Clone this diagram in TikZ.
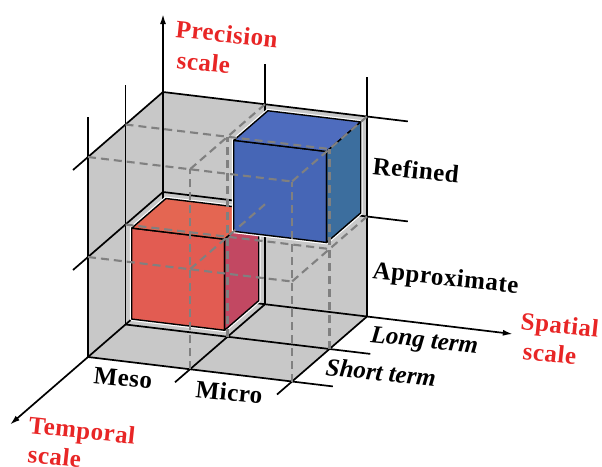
\documentclass[tikz,border=0pt]{standalone}
\usepackage{fontspec}
\setmainfont{Liberation Serif}
\usetikzlibrary{arrows.meta}
\definecolor{wallgrey}{RGB}{200,200,200}
\definecolor{hiddengrey}{RGB}{128,128,128}
\definecolor{redfront}{RGB}{226,92,82}
\definecolor{redtop}{RGB}{228,102,82}
\definecolor{redside}{RGB}{194,72,98}
\definecolor{bluefront}{RGB}{70,102,182}
\definecolor{bluetop}{RGB}{78,108,190}
\definecolor{blueside}{RGB}{60,110,158}
\definecolor{scalered}{RGB}{232,38,38}
\tikzset{
  wall/.style={fill=wallgrey},
  gridline/.style={line width=1.7pt},
  axis/.style={line width=1.7pt,-{Latex[length=10pt,width=6pt]}},
  hidden/.style={draw=hiddengrey,line width=2.1pt,dash pattern=on 8pt off 5pt},
  halo/.style={draw=white,line width=3.8pt,line join=round},
  blockedge/.style={draw=black,line width=1.4pt,line join=round},
  lab/.style={inner sep=0pt,anchor=base west,rotate=-6,
    font=\fontsize{25}{29}\selectfont\bfseries\addfontfeatures{LetterSpace=2}},
  termlab/.style={lab,font=\fontsize{25}{29}\selectfont\bfseries\itshape},
  scalelab/.style={lab,text=scalered}
}
% block in the cell whose low corner is (s,p,t)
\newcommand{\drawblock}[4]{%
  \pgfmathsetmacro\bsl{#1+0.045}\pgfmathsetmacro\bsh{#1+0.955}%
  \pgfmathsetmacro\bpl{#2+0.045}\pgfmathsetmacro\bph{#2+0.955}%
  \pgfmathsetmacro\btl{#3+0.045}\pgfmathsetmacro\bth{#3+0.955}%
  \draw[halo] (\bsl,\bpl,\bth) -- (\bsh,\bpl,\bth) -- (\bsh,\bpl,\btl)
    -- (\bsh,\bph,\btl) -- (\bsl,\bph,\btl) -- (\bsl,\bph,\bth) -- cycle;
  \draw[blockedge,fill=#4front] (\bsl,\bpl,\bth) -- (\bsh,\bpl,\bth)
    -- (\bsh,\bph,\bth) -- (\bsl,\bph,\bth) -- cycle;
  \draw[blockedge,fill=#4top] (\bsl,\bph,\bth) -- (\bsh,\bph,\bth)
    -- (\bsh,\bph,\btl) -- (\bsl,\bph,\btl) -- cycle;
  \draw[blockedge,fill=#4side] (\bsh,\bpl,\bth) -- (\bsh,\bpl,\btl)
    -- (\bsh,\bph,\btl) -- (\bsh,\bph,\bth) -- cycle;
}

\begin{document}
\begin{tikzpicture}
\useasboundingbox (0,0) rectangle (602pt,-466pt);
\begin{scope}[shift={(163pt,-292pt)},x={(102pt,-12.25pt)},y={(0pt,100pt)},z={(-37.5pt,-32.5pt)}]
% walls
\fill[wall] (0,0,0) -- (2,0,0) -- (2,2,0) -- (0,2,0) -- cycle;
\fill[wall] (0,0,0) -- (0,0,2) -- (0,2,2) -- (0,2,0) -- cycle;
\fill[wall] (0,0,0) -- (2,0,0) -- (2,0,2) -- (0,0,2) -- cycle;
% grid on the walls
\foreach \i in {1,2} {
  \draw[gridline] (0,\i,0) -- (2.4,\i,0);
  \draw[gridline] (0,0,\i) -- (2.4,0,\i);
  \draw[gridline] (0,\i,0) -- (0,\i,2.4);
  \draw[gridline] (\i,0,0) -- (\i,0,2.4);
  \draw[gridline] (\i,0,0) -- (\i,2.4,0);
  \draw[gridline] (0,0,\i) -- (0,2.4,\i);
}
\coordinate (o) at (0,0,0);
\coordinate (spatial) at (3.43,0,0);
\coordinate (precision) at (0,2.78,0);
\coordinate (temporal) at (0,0,4.08);
\draw[axis] (o) -- (spatial);
\draw[axis] (o) -- (precision);
\draw[axis] (o) -- (temporal);
% blocks
\drawblock{0}{0}{0}{red}
\drawblock{1}{1}{0}{blue}
% hidden lattice
\foreach \i in {1,2} \foreach \j in {1,2} {
  \draw[hidden] (0,\i,\j) -- (2,\i,\j);
  \draw[hidden] (\i,\j,0) -- (\i,\j,2);
  \draw[hidden] (\i,0,\j) -- (\i,2,\j);
}
\end{scope}
% labels
\node[scalelab] (prec1) at (175pt,-37pt) {Precision};
\node[scalelab] (prec2) at (176pt,-68pt) {scale};
\node[scalelab] (spat1) at (520pt,-329pt) {Spatial};
\node[scalelab] (spat2) at (522pt,-359pt) {scale};
\node[scalelab] (temp1) at (28pt,-433pt) {Temporal};
\node[scalelab] (temp2) at (27pt,-462pt) {scale};
\node[lab] (refined) at (372pt,-174pt) {Refined};
\node[lab] (approx) at (372pt,-278pt) {Approximate};
\node[lab] (meso) at (93pt,-383pt) {Meso};
\node[lab] (micro) at (195pt,-397pt) {Micro};
\node[termlab] (long) at (370pt,-342pt) {Long term};
\node[termlab] (short) at (325pt,-375pt) {Short term};
\end{tikzpicture}
\end{document}
